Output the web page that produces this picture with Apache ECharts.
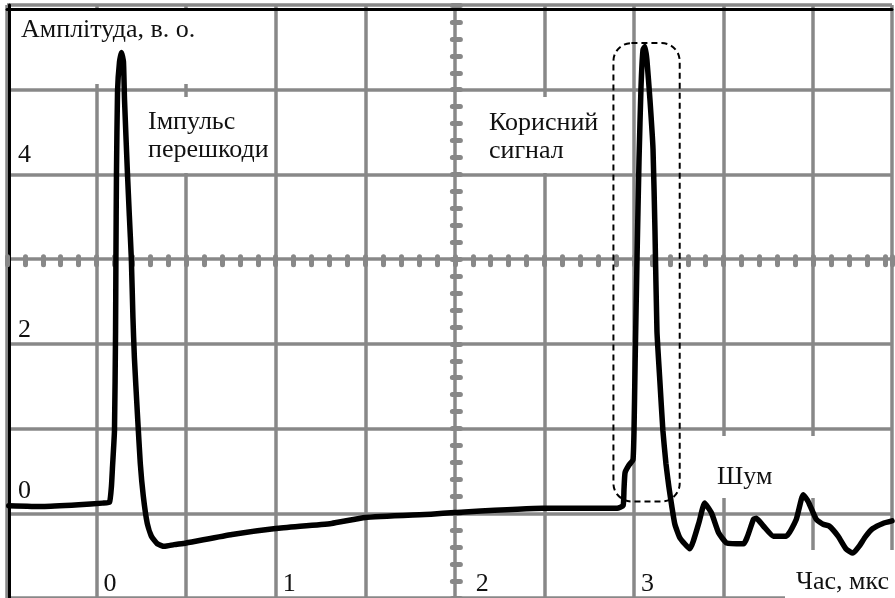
<!DOCTYPE html>
<html>
<head>
<meta charset="utf-8">
<script src="https://cdn.jsdelivr.net/npm/echarts@6/dist/echarts.min.js"></script>
<style>
html,body{margin:0;padding:0;background:#fff;}
#chart{width:895px;height:598px;}
</style>
</head>
<body>
<div id="chart"></div>
<script>
// ---- data (time in µs, amplitude in a.u.) ----
const timeUs = [-0.49, -0.3, -0.1, 0.033, 0.072, 0.083, 0.089, 0.1, 0.106, 0.108, 0.111, 0.117, 0.128, 0.139, 0.15, 0.156, 0.172, 0.183, 0.194, 0.203, 0.211, 0.228, 0.244, 0.261, 0.283, 0.306, 0.339, 0.378, 0.433, 0.5, 0.756, 1.0, 1.311, 1.5, 1.867, 2.0, 2.489, 2.906, 2.939, 2.944, 2.95, 2.972, 2.994, 3.0, 3.006, 3.017, 3.028, 3.039, 3.05, 3.061, 3.072, 3.089, 3.106, 3.117, 3.128, 3.144, 3.161, 3.178, 3.194, 3.211, 3.228, 3.256, 3.311, 3.361, 3.394, 3.433, 3.472, 3.517, 3.611, 3.667, 3.683, 3.722, 3.778, 3.85, 3.906, 3.944, 3.972, 4.017, 4.056, 4.089, 4.139, 4.183, 4.222, 4.256, 4.294, 4.333, 4.389, 4.44];
const amplitude = [0.09, 0.08, 0.1, 0.12, 0.13, 0.32, 0.55, 0.98, 2.15, 3.01, 3.99, 4.98, 5.33, 5.44, 5.33, 4.88, 4.03, 3.51, 3.01, 2.31, 1.84, 1.17, 0.59, 0.2, -0.12, -0.27, -0.36, -0.39, -0.37, -0.35, -0.25, -0.18, -0.12, -0.05, -0.01, 0.01, 0.06, 0.06, 0.09, 0.28, 0.48, 0.57, 0.63, 0.98, 1.76, 3.04, 4.18, 5.03, 5.47, 5.51, 5.35, 4.88, 4.3, 3.33, 2.15, 1.57, 0.98, 0.59, 0.32, 0.08, -0.13, -0.29, -0.42, -0.12, 0.12, 0.0, -0.23, -0.35, -0.36, -0.07, -0.06, -0.15, -0.27, -0.27, -0.07, 0.22, 0.14, -0.07, -0.13, -0.15, -0.27, -0.42, -0.47, -0.39, -0.27, -0.18, -0.12, -0.09];
const xTickLabels = [0, 1, 2, 3];
const yTickLabels = [0, 2, 4];
const yAxisTitle = 'Амплітуда, в. о.';
const xAxisTitle = 'Час, мкс';
const noteInterference = ['Імпульс', 'перешкоди'];
const noteSignal = ['Корисний', 'сигнал'];
const noteNoise = 'Шум';
// highlighted region around the useful signal (data coords)
const signalBoxT = [2.885, 3.255];
const signalBoxA = [0.14, 5.55];

// ---- layout ----
const W = 895, H = 598;
const xMin = -0.5, xMax = 4.44, yMin = -1, yMax = 6;
const gridLeft = 7, gridTop = 5, gridRight = 0, gridBottom = -4;
const gridW = W - gridLeft - gridRight, gridH = H - gridTop - gridBottom;
const centerXpx = gridLeft + (2 - xMin) / (xMax - xMin) * gridW;
const centerYpx = gridTop + (yMax - 3) / (yMax - yMin) * gridH;

const GRAY = '#888888';
const FONT = "'Liberation Serif', 'Times New Roman', serif";
const FS = 26;
const TXT = '#111';

const seriesData = timeUs.map((t, i) => [t, amplitude[i]]);

function baseX(extra) {
  return Object.assign({
    type: 'value', min: xMin, max: xMax, interval: 0.5,
    axisLine: { show: false, onZero: false },
    axisTick: { show: false }, axisLabel: { show: false },
    splitLine: { show: false }
  }, extra);
}
function baseY(extra) {
  return Object.assign({
    type: 'value', min: yMin, max: yMax, interval: 1,
    axisLine: { show: false, onZero: false },
    axisTick: { show: false }, axisLabel: { show: false },
    splitLine: { show: false }
  }, extra);
}
const beadTick = (inside) => ({
  show: true, inside: inside, length: 4,
  lineStyle: { color: GRAY, width: 5, cap: 'round' }
});
const beadMinor = {
  show: true, splitNumber: 5, length: 4,
  lineStyle: { color: GRAY, width: 5, cap: 'round' }
};
const rs = (pad) => ({ fontFamily: FONT, fontSize: FS, color: TXT, padding: pad });

const chart = echarts.init(document.getElementById('chart'), null, { renderer: 'canvas' });

const option = {
  animation: false,
  backgroundColor: '#fff',
  grid: { left: gridLeft, top: gridTop, right: gridRight, bottom: gridBottom, containLabel: false },
  xAxis: [
    baseX({
      position: 'bottom',
      splitLine: { show: true, lineStyle: { color: GRAY, width: 3.5 } },
      axisLabel: {
        show: true, inside: true, margin: 1, verticalAlign: 'bottom', align: 'left',
        formatter: v => xTickLabels.includes(v) ? (v === 2 ? '{q|' + v + '}' : '{p|' + v + '}') : '',
        rich: { p: rs([0, 0, 0, 7]), q: rs([0, 0, 0, 21]) }
      }
    }),
    baseX({ position: 'top', offset: -4, axisLine: { show: true, onZero: false, lineStyle: { color: '#000', width: 3 } } }),
    baseX({ position: 'top', offset: -(centerYpx - gridTop), axisTick: beadTick(false), minorTick: beadMinor }),
    baseX({ position: 'top', offset: -(centerYpx - gridTop), axisTick: beadTick(true), minorTick: beadMinor })
  ],
  yAxis: [
    baseY({
      position: 'left', offset: -2,
      axisLine: { show: true, onZero: false, lineStyle: { color: '#000', width: 3 } },
      splitLine: { show: true, lineStyle: { color: GRAY, width: 3.5 } },
      axisLabel: {
        show: true, inside: true, margin: 9, align: 'left', verticalAlign: 'bottom',
        formatter: v => yTickLabels.includes(v) ? ('{l' + v + '|' + v + '}') : '',
        rich: { l4: rs([0, 0, 6, 0]), l2: rs([0, 0, 1, 0]), l0: rs([0, 0, 9, 0]) }
      }
    }),
    baseY({ position: 'left', offset: -(centerXpx - gridLeft), axisTick: beadTick(false), minorTick: beadMinor }),
    baseY({ position: 'left', offset: -(centerXpx - gridLeft), axisTick: beadTick(true), minorTick: beadMinor })
  ],
  series: [{
    type: 'line',
    xAxisIndex: 0, yAxisIndex: 0,
    data: seriesData,
    showSymbol: false, symbol: 'none',
    smooth: 0.15,
    z: 5,
    lineStyle: { color: '#000', width: 5.5, cap: 'round', join: 'round' }
  }]
};
chart.setOption(option);

// annotation text + white backgrounds
function txt(text, x, y, align) {
  return { type: 'text', z: 10, style: { text: text, x: x, y: y, font: FS + 'px ' + FONT, fill: TXT, textAlign: align || 'left', textVerticalAlign: 'middle' } };
}
function whiteBox(x, y, w, h) {
  return { type: 'rect', z: 1, shape: { x: x, y: y, width: w, height: h }, style: { fill: '#fff' } };
}
const p0 = chart.convertToPixel({ xAxisIndex: 0, yAxisIndex: 0 }, [signalBoxT[0], signalBoxA[1]]);
const p1 = chart.convertToPixel({ xAxisIndex: 0, yAxisIndex: 0 }, [signalBoxT[1], signalBoxA[0]]);

chart.setOption({
  graphic: [
    whiteBox(11, 11, 192, 73),
    whiteBox(143, 97, 131, 76),
    whiteBox(484, 97, 122, 76),
    whiteBox(702, 436, 128, 62),
    whiteBox(785, 550, 110, 48),
    txt(yAxisTitle, 21, 30),
    txt(noteInterference[0], 148, 122),
    txt(noteInterference[1], 148, 150),
    txt(noteSignal[0], 489, 123),
    txt(noteSignal[1], 489, 151),
    txt(noteNoise, 717, 477),
    txt(xAxisTitle, 796, 582),
    {
      type: 'rect', z: 8,
      shape: { x: p0[0], y: p0[1], width: p1[0] - p0[0], height: p1[1] - p0[1], r: 18 },
      style: { fill: 'none', stroke: '#000', lineWidth: 2, lineDash: [6, 4] }
    }
  ]
});
</script>
</body>
</html>
